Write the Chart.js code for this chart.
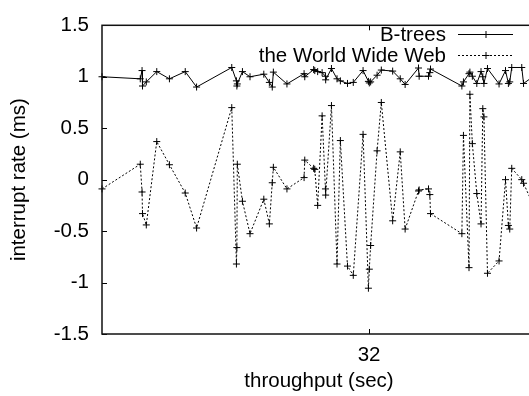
<!DOCTYPE html>
<html>
<head>
<meta charset="utf-8">
<script src="https://cdn.jsdelivr.net/npm/chart.js@4/dist/chart.umd.min.js"></script>
<style>
  html, body { margin: 0; padding: 0; background: #fff; overflow: hidden; }
  canvas { display: block; }
</style>
</head>
<body>
<canvas id="myChart" width="546" height="396"></canvas>
<script>
// x positions shared by both series (sec)
const xValues = [20.00, 21.72, 21.80, 21.82, 21.99, 22.46, 23.03, 23.74, 24.25, 25.83,
  26.04, 26.06, 26.08, 26.31, 26.65, 27.27, 27.52, 27.65, 27.70, 28.31,
  29.08, 29.11, 29.51, 29.56, 29.69, 29.89, 30.04, 30.05, 30.31, 30.56,
  30.71, 31.03, 31.29, 31.73, 31.97, 32.01, 32.07, 32.36, 32.55, 33.06,
  33.40, 33.62, 34.22, 34.25, 34.67, 34.73, 34.76, 36.17, 36.24, 36.49,
  36.53, 36.64, 36.84, 37.03, 37.11, 37.16, 37.32, 37.84, 38.13, 38.26,
  38.32, 38.41, 38.86, 38.94, 39.69];

const btrees = [1.00, 0.98, 1.06, 0.91, 0.95, 1.05, 0.98, 1.05, 0.90, 1.09,
  0.96, 0.91, 0.93, 1.05, 1.00, 1.025, 0.945, 0.90, 1.045, 0.93,
  1.03, 1.00, 1.07, 1.06, 1.05, 1.04, 1.005, 0.97, 1.08, 0.98,
  0.96, 0.935, 0.945, 1.06, 0.955, 0.94, 0.95, 1.015, 1.065, 1.055,
  0.98, 0.925, 1.085, 1.005, 1.005, 1.04, 1.075, 0.91, 0.95, 1.03,
  1.045, 1.005, 0.935, 1.05, 1.00, 0.935, 1.08, 0.93, 1.06, 0.935,
  0.95, 1.09, 1.09, 0.935, 1.05];

const www = [-0.09, 0.15, -0.12, -0.33, -0.44, 0.37, 0.145, -0.13, -0.47, 0.70,
  -0.82, -0.66, 0.15, -0.21, -0.525, -0.19, -0.43, -0.03, 0.12, -0.09,
  0.02, 0.19, 0.11, 0.10, -0.25, 0.62, -0.09, -0.15, 0.72, -0.82,
  0.38, -0.84, -0.93, 0.44, -1.055, -0.87, -0.64, 0.28, 0.75, -0.40,
  0.27, -0.48, -0.11, -0.10, -0.09, -0.145, -0.33, -0.525, 0.43, -0.855,
  0.83, 0.35, -0.135, -0.43, 0.69, 0.61, -0.91, -0.79, 0.00, -0.445,
  -0.48, 0.11, 0.00, -0.035, -0.40];

const seriesNames = ['B-trees', 'the World Wide Web'];
const xTicks = [32];
const yTicks = [-1.5, -1, -0.5, 0, 0.5, 1, 1.5];

const FONT = '"Liberation Sans", Arial, Helvetica, sans-serif';
const FSIZE = 20.5;

function toPoints(ys) {
  return xValues.map((x, i) => ({ x: x, y: ys[i] }));
}

function plus(c, x, y, r) {
  c.beginPath();
  c.moveTo(x - r, y); c.lineTo(x + r, y);
  c.moveTo(x, y - r); c.lineTo(x, y + r);
  c.stroke();
}

// gnuplot-like frame, inward ticks and key
const framePlugin = {
  id: 'frame',
  afterDatasetsDraw(chart) {
    const c = chart.ctx;
    const a = chart.chartArea;
    const xs = chart.scales.x, ys = chart.scales.y;
    c.save();
    c.strokeStyle = '#000';
    c.lineWidth = 1;
    c.setLineDash([]);
    yTicks.forEach(v => {
      const py = Math.round(ys.getPixelForValue(v)) + 0.5;
      c.beginPath();
      c.moveTo(a.left, py); c.lineTo(a.left + 5, py);
      c.moveTo(a.right, py); c.lineTo(a.right - 5, py);
      c.stroke();
    });
    xTicks.forEach(v => {
      const px = Math.round(xs.getPixelForValue(v)) + 0.5;
      c.beginPath();
      c.moveTo(px, a.bottom); c.lineTo(px, a.bottom - 5);
      c.moveTo(px, a.top); c.lineTo(px, a.top + 5);
      c.stroke();
    });
    c.lineWidth = 1.5;
    c.strokeStyle = '#111';
    c.strokeRect(a.left, a.top, a.right - a.left, a.bottom - a.top);

    // key
    c.font = FSIZE + 'px ' + FONT;
    c.fillStyle = '#000';
    c.textAlign = 'right';
    c.textBaseline = 'middle';
    const keyRows = [34, 55];
    seriesNames.forEach((name, i) => {
      const y = keyRows[i];
      c.fillText(name, 446, y + 1);
      c.lineWidth = 1;
      c.strokeStyle = '#000';
      c.setLineDash(i === 0 ? [] : [2, 2]);
      c.beginPath();
      c.moveTo(458, y + 0.5); c.lineTo(513, y + 0.5);
      c.stroke();
      c.setLineDash([]);
      plus(c, 486, y + 0.5, 3.5);
    });
    c.restore();
  }
};

const ctx = document.getElementById('myChart');

const myChart = new Chart(ctx, {
  type: 'line',
  data: {
    datasets: [{
      label: seriesNames[0],
      data: toPoints(btrees),
      borderColor: '#000',
      borderWidth: 1,
      pointStyle: 'cross',
      pointRadius: 3.5,
      pointBorderWidth: 1,
      pointBorderColor: '#000',
      tension: 0,
      clip: false
    }, {
      label: seriesNames[1],
      data: toPoints(www),
      borderColor: '#000',
      borderWidth: 1,
      borderDash: [2, 2],
      pointStyle: 'cross',
      pointRadius: 3.5,
      pointBorderWidth: 1,
      pointBorderColor: '#000',
      tension: 0,
      clip: false
    }]
  },
  options: {
    responsive: false,
    animation: false,
    devicePixelRatio: 1,
    layout: { padding: { top: 19, right: 10, left: 0, bottom: 0 } },
    plugins: {
      legend: { display: false },
      tooltip: { enabled: false }
    },
    scales: {
      x: {
        type: 'linear',
        min: 20,
        max: 39.5,
        afterBuildTicks: s => { s.ticks = xTicks.map(v => ({ value: v })); },
        afterFit: s => { s.height = 62; },
        grid: { display: false, drawTicks: false },
        border: { display: false },
        ticks: {
          padding: 9,
          maxRotation: 0,
          color: '#000',
          font: { family: FONT, size: FSIZE },
          callback: v => String(v)
        },
        title: {
          display: true,
          text: 'throughput (sec)',
          color: '#000',
          font: { family: FONT, size: FSIZE },
          padding: { top: 0, bottom: 2 }
        }
      },
      y: {
        min: -1.5,
        max: 1.5,
        afterBuildTicks: s => { s.ticks = yTicks.map(v => ({ value: v })); },
        afterFit: s => { s.width = 102; },
        grid: { display: false, drawTicks: false },
        border: { display: false },
        ticks: {
          padding: 13,
          color: '#000',
          font: { family: FONT, size: FSIZE },
          callback: v => String(v)
        },
        title: {
          display: true,
          text: 'interrupt rate (ms)',
          color: '#000',
          font: { family: FONT, size: FSIZE },
          padding: { top: 7, bottom: 0 }
        }
      }
    }
  },
  plugins: [framePlugin]
});
</script>
</body>
</html>
